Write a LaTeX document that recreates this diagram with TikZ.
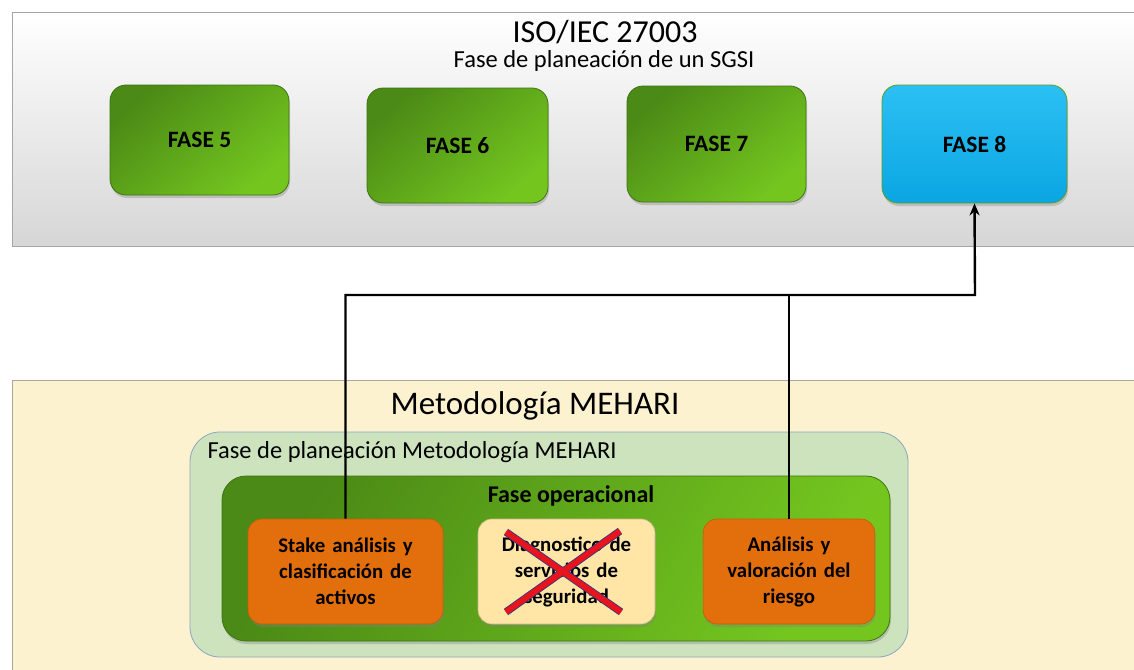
\documentclass[tikz,border=0pt]{standalone}
\usepackage{fontspec}
\setmainfont{Carlito}
\usetikzlibrary{arrows.meta,shadows}
\definecolor{panelborder}{HTML}{A6A6A6}
\definecolor{cream}{HTML}{FCF2CF}
\definecolor{paleg}{HTML}{CCE3BE}
\definecolor{palegborder}{HTML}{8CA6BF}
\definecolor{gdark}{HTML}{4B8A16}
\definecolor{glight}{HTML}{74C61F}
\definecolor{gedge}{HTML}{3E7410}
\definecolor{bluetop}{HTML}{2CC0F4}
\definecolor{bluebot}{HTML}{0AA6E2}
\definecolor{orangef}{HTML}{E36F0C}
\definecolor{orangee}{HTML}{C65E06}
\definecolor{paley}{HTML}{FFE6A6}
\definecolor{xred}{HTML}{E8141C}
\tikzset{
  phasebox/.style={rounded corners=16pt, draw=gedge, line width=0.8pt,
    top color=gdark, bottom color=glight, shading angle=40,
    drop shadow={opacity=0.35, shadow xshift=1pt, shadow yshift=-3pt},
    font=\bfseries\fontsize{23.5}{26}\selectfont, align=center},
  bluebox/.style={rounded corners=16pt, draw=glight!80!black, line width=0.8pt,
    top color=bluetop, bottom color=bluebot,
    drop shadow={opacity=0.35, shadow xshift=1pt, shadow yshift=-3pt},
    font=\bfseries\fontsize{23.5}{26}\selectfont},
  taskbox/.style={rounded corners=14pt, draw=orangee, line width=0.6pt, fill=orangef,
    drop shadow={opacity=0.35, shadow xshift=1pt, shadow yshift=-3pt},
    text width=180pt, align=center, font=\bfseries\fontsize{20.8}{26}\selectfont},
  link/.style={line width=2.4pt, black},
  heading/.style={inner sep=0pt, font=\fontsize{32}{35}\selectfont},
}
\begin{document}
\begin{tikzpicture}[x=1pt,y=-1pt]
\clip (0,0) rectangle (1134,669);
\fill[white] (0,0) rectangle (1134,669);

% ISO/IEC 27003 panel
\shade[top color=white, bottom color=black!16, draw=panelborder, line width=0.8pt]
  (12,12) rectangle (1150,246);
\node[heading] (iso) at (605,32) {ISO/IEC 27003};
\node[inner sep=0pt, font=\fontsize{24.5}{27}\selectfont] (sgsi) at (604,61) {Fase de planeación de un SGSI};

\node[phasebox, minimum width=179pt, minimum height=110pt] (f5) at (199.5,140) {FASE 5};
\node[phasebox, minimum width=181pt, minimum height=115pt] (f6) at (457.5,145.5) {FASE 6};
\node[phasebox, minimum width=179pt, minimum height=116pt] (f7) at (716.5,144) {FASE 7};
\node[bluebox, minimum width=185pt, minimum height=118pt] (f8) at (974.5,144) {FASE 8};

% MEHARI panel
\draw[fill=cream, draw=panelborder, line width=0.8pt] (12,380) rectangle (1150,690);
\node[font=\fontsize{33}{36}\selectfont] (mehari) at (535,406) {Metodología MEHARI};

\draw[rounded corners=30pt, fill=paleg, draw=palegborder, line width=0.8pt]
  (190,432) rectangle (908,657);
\node[anchor=west, font=\fontsize{24.5}{27}\selectfont] (plan) at (204,452)
  {Fase de planeación Metodología MEHARI};

\shade[rounded corners=24pt, top color=gdark, bottom color=glight, shading angle=60,
  draw=gedge, line width=0.8pt,
  drop shadow={opacity=0.35, shadow xshift=1pt, shadow yshift=-3pt}]
  (222,476) rectangle (890,641);
\node[font=\bfseries\fontsize{24}{27}\selectfont] (oper) at (571,496) {Fase operacional};

\node[taskbox, minimum width=195pt, minimum height=105pt] (stake) at (345.5,571.5)
  {Stake análisis y\\clasificación de\\activos};
\node[taskbox, fill=paley, draw=paley!80!black, text width=170pt,
  minimum width=177pt, minimum height=105pt] (diag) at (566.5,571.5)
  {Diagnostico de\\servicios de\\seguridad};
\node[taskbox, text width=165pt, minimum width=171pt, minimum height=105pt] (anal) at (789,571.5)
  {Análisis y\\valoración del\\riesgo};

% crossed-out task
\draw[line width=7.5pt, black!45!blue!60!gray] (506,532) -- (621,612) (620,531) -- (506,612);
\draw[line width=5.8pt, xred] (506,532) -- (621,612) (620,531) -- (506,612);

% connectors
\coordinate (j) at (975,295);
\draw[link, -{Stealth[length=12pt,width=10pt]}] (stake.north) |- (j) -- (f8.south);
\draw[link] (anal.north) -- (anal.north |- j);
\end{tikzpicture}
\end{document}
